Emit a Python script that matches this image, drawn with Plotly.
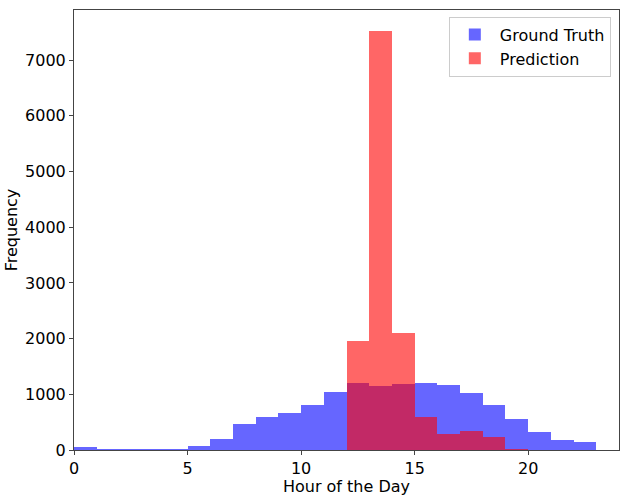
import plotly.graph_objects as go

bin_edges = list(range(0, 23))  # left edges of 1-hour bins
truth_counts = [45, 10, 10, 10, 10, 77, 190, 470, 596, 673, 810, 1043,
                1204, 1150, 1186, 1204, 1168, 1025, 810, 560, 327, 184, 149]
pred_edges = [12, 13, 14, 15, 16, 17, 18, 19]
pred_counts = [1955, 7520, 2098, 596, 292, 345, 238, 25]

fig = go.Figure()
fig.add_trace(go.Bar(x=bin_edges, y=truth_counts, width=1, offset=0,
                     name="Ground Truth",
                     marker=dict(color="rgba(0,0,255,0.6)", line=dict(width=0))))
fig.add_trace(go.Bar(x=pred_edges, y=pred_counts, width=1, offset=0,
                     name="Prediction",
                     marker=dict(color="rgba(255,0,0,0.6)", line=dict(width=0))))

font = "DejaVu Sans, sans-serif"
fig.update_layout(
    width=621, height=496,
    barmode="overlay", bargap=0,
    plot_bgcolor="white", paper_bgcolor="white",
    margin=dict(l=74, r=1, t=10, b=43),
    font=dict(family=font, size=16, color="black"),
    legend=dict(x=0.985, y=0.985, xanchor="right", yanchor="top",
                bordercolor="#cccccc", borderwidth=1, bgcolor="rgba(255,255,255,0.8)",
                font=dict(size=16), itemwidth=40),
    xaxis=dict(range=[0, 24], tickvals=[0, 5, 10, 15, 20], showgrid=False,
               zeroline=False, showline=True, linecolor="#444", linewidth=1,
               mirror=True, ticks="outside", ticklen=4, tickcolor="#444",
               title=dict(text="Hour of the Day", standoff=6, font=dict(size=16))),
    yaxis=dict(range=[0, 7900], tickvals=[0, 1000, 2000, 3000, 4000, 5000, 6000, 7000],
               showgrid=False, zeroline=False, showline=True, linecolor="#444",
               linewidth=1, mirror=True, ticks="outside", ticklen=4, tickcolor="#444",
               title=dict(text="Frequency", standoff=3, font=dict(size=16))),
)

fig.write_html("out.html")
